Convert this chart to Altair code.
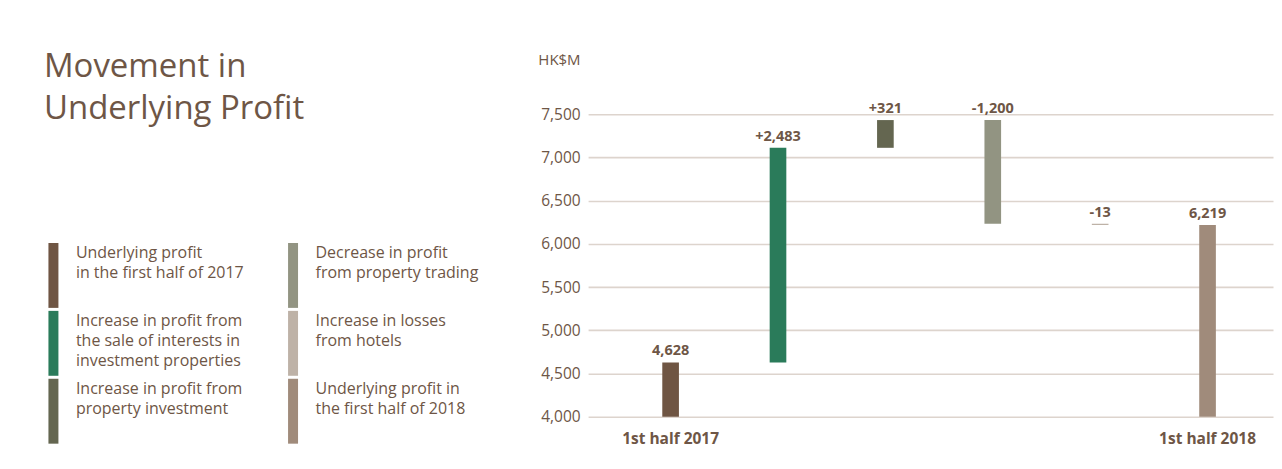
import altair as alt
import pandas as pd

# ---------------- data ----------------
categories = [
    "1st half 2017",
    "Sale of interests in investment properties",
    "Property investment",
    "Property trading",
    "Hotels",
    "1st half 2018",
]
changes = [4628, 2483, 321, -1200, -13, 6219]
is_total = [True, False, False, False, False, True]
value_labels = ["4,628", "+2,483", "+321", "-1,200", "-13", "6,219"]
shown_axis_labels = ["1st half 2017", "1st half 2018"]
colors = ["#6f5543", "#2a7b5a", "#646650", "#929482", "#beb2a7", "#a08b7b"]

legend_texts = [
    "Underlying profit\nin the first half of 2017",
    "Increase in profit from\nthe sale of interests in\ninvestment properties",
    "Increase in profit from\nproperty investment",
    "Decrease in profit\nfrom property trading",
    "Increase in losses\nfrom hotels",
    "Underlying profit in\nthe first half of 2018",
]
legend_col = [0, 0, 0, 1, 1, 1]
legend_row = [0, 1, 2, 0, 1, 2]

y_ticks = [4000, 4500, 5000, 5500, 6000, 6500, 7000, 7500]
axis_base = 4000
title_lines = ["Movement in", "Underlying Profit"]
unit_label = "HK$M"

TEXT = "#6e5646"
GRID = "#ddd4cd"
FONT = "Open Sans"

# ---------------- waterfall table ----------------
starts, ends = [], []
running = 0
for c, t in zip(changes, is_total):
    if t:
        s, e = axis_base, c
        running = c
    else:
        s, e = running, running + c
        running += c
    starts.append(s)
    ends.append(e)

bars_df = pd.DataFrame({
    "category": categories,
    "start": starts,
    "end": ends,
    "top": [max(a, b) for a, b in zip(starts, ends)],
    "label": value_labels,
})

legend_df = pd.DataFrame({
    "category": categories,
    "col": legend_col,
    "top": legend_row,
    "bottom": [r + 0.956 for r in legend_row],
    "text": legend_texts,
})

color_scale = alt.Scale(domain=categories, range=colors)

# ---------------- right: waterfall ----------------
x_scale = alt.Scale(paddingInner=0.845, paddingOuter=0.6115, align=0.565)
x_axis = alt.Axis(
    title="",
    domain=False,
    ticks=False,
    labelAngle=0,
    labelBaseline="alphabetic",
    labelPadding=27,
    labelFontWeight="bold",
    labelFontSize=15.5,
    labelColor=TEXT,
    labelFont=FONT,
    labelExpr="indexof(" + str(shown_axis_labels) + ", datum.value) >= 0 ? datum.value : ''",
)
y_scale = alt.Scale(domain=[4000, 8713], nice=False, zero=False)
y_axis = alt.Axis(
    title=unit_label,
    values=y_ticks,
    format=",.0f",
    grid=True,
    gridColor=GRID,
    gridWidth=1.6,
    domain=False,
    ticks=False,
    labelPadding=8,
    labelFontSize=15.5,
    labelColor=TEXT,
    labelFont=FONT,
    titleAngle=0,
    titleAlign="right",
    titleBaseline="alphabetic",
    titleX=-8,
    titleY=55,
    titleFontWeight="normal",
    titleFontSize=15,
    titleColor=TEXT,
    titleFont=FONT,
)

base = alt.Chart(bars_df)
bars = base.mark_bar().encode(
    x=alt.X("category:N", sort=categories, scale=x_scale, axis=x_axis),
    y=alt.Y("start:Q", scale=y_scale, axis=y_axis),
    y2="end:Q",
    color=alt.Color("category:N", scale=color_scale, legend=None),
)
labels = base.mark_text(
    baseline="alphabetic", dy=-7, fontWeight="bold", fontSize=14.5, font=FONT, color=TEXT
).encode(
    x=alt.X("category:N", sort=categories, scale=x_scale, axis=x_axis),
    y=alt.Y("top:Q", scale=y_scale, axis=y_axis),
    text="label:N",
)
right = alt.layer(bars, labels).properties(width=686, height=408)

# ---------------- left: title + legend ----------------
lx = alt.Scale(domain=[-0.18542, 2.18958], nice=False, zero=False)
ly = alt.Scale(domain=[-3.4412, 2.5588], nice=False, zero=False, reverse=True)

swatches = alt.Chart(legend_df).mark_rule(strokeWidth=10).encode(
    x=alt.X("col:Q", scale=lx, axis=None),
    y=alt.Y("top:Q", scale=ly, axis=None),
    y2="bottom:Q",
    color=alt.Color("category:N", scale=color_scale, legend=None),
)
legend_text = alt.Chart(legend_df).mark_text(
    align="left", baseline="alphabetic", dx=22.5, dy=15, lineBreak="\n",
    lineHeight=20, fontSize=16, font=FONT, color=TEXT,
).encode(
    x=alt.X("col:Q", scale=lx, axis=None),
    y=alt.Y("top:Q", scale=ly, axis=None),
    text="text:N",
)
title = alt.Chart(pd.DataFrame({"t": [0]})).mark_text(
    align="left", baseline="alphabetic", fontSize=33, lineHeight=42, font=FONT, color=TEXT,
).encode(
    x=alt.value(35),
    y=alt.value(68),
    text=alt.value(title_lines),
)
left = alt.layer(swatches, legend_text, title).properties(width=570, height=408)

chart = alt.hconcat(
    left, right, spacing=10, bounds="flush", padding=0, background="white"
).configure_view(stroke="transparent")

chart.save("out.html", embed_options={"renderer": "svg", "actions": False})
